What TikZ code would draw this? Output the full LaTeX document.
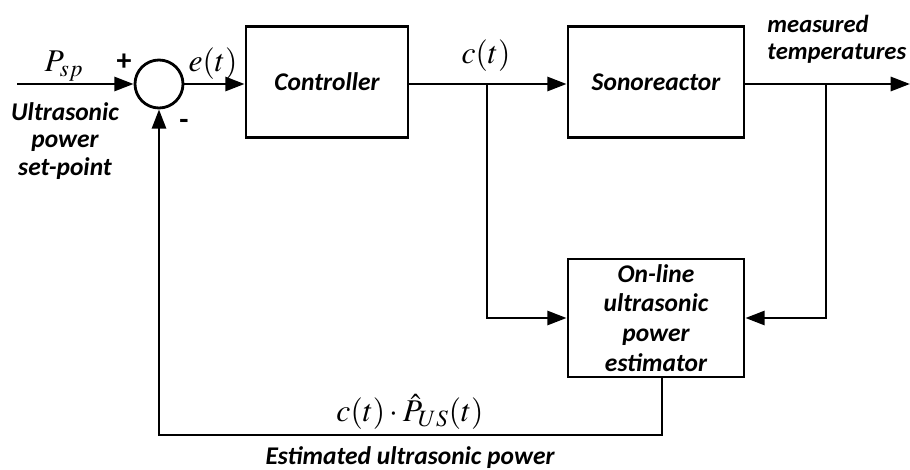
\documentclass[tikz,border=0pt]{standalone}
\usepackage{mathptmx}
\usepackage[no-math]{fontspec}
\setmainfont{Carlito}
\usepackage{tikz}
\usetikzlibrary{positioning, arrows.meta, calc}

\begin{document}
\begin{tikzpicture}[
  x=0.02cm, y=-0.02cm,
  every node/.style={font=\fontsize{14.5}{15.5}\selectfont\bfseries\itshape},
  block/.style={rectangle, draw=black, line width=1.6pt, minimum width=3.52cm, minimum height=2.22cm, align=center},
  sumnode/.style={circle, draw=black, line width=1.6pt, minimum size=0.96cm, inner sep=0pt},
  lbl/.style={font=\fontsize{18}{20}\selectfont},
  >={Triangle[length=11pt,width=8pt]}, line width=1.6pt
]
  \useasboundingbox (0,0) rectangle (910,470);
  % blocks
  \node[sumnode] (sum) at (159,84) {};
  \node[block, minimum width=3.24cm] (ctrl) at (327,82) {Controller};
  \node[block] (sono) at (656,82) {Sonoreactor};
  \node[block, minimum height=2.36cm, inner sep=1pt, font=\fontsize{14.5}{17}\selectfont\bfseries\itshape] (est) at (656,318)
    {On-line\\ultrasonic\\power\\estimator};
  \coordinate (in) at (17,84);
  \coordinate (out) at (910,84);
  \coordinate (cb) at (487,84);
  \coordinate (mb) at (826,84);
  \coordinate (lo) at (662,435);
  % connectors
  \draw[->] (in) -- (sum);
  \draw[->] (sum) -- (ctrl.west |- sum);
  \draw[->] (ctrl.east |- cb) -- (sono.west |- cb);
  \draw[->] (sono.east |- mb) -- (out);
  \draw[->] (cb) |- (est.west);
  \draw[->] (mb) |- (est.east);
  \draw[->] (est.south -| lo) -- (lo) -| (sum.south);
  % labels
  \node[lbl] (psp) at (64,66) {$P_{sp}$};
  \node[font=\fontsize{17}{18}\selectfont\bfseries] (plus) at (124,62) {+};
  \node[font=\fontsize{17}{18}\selectfont\bfseries] (minus) at (184,124) {-};
  \node[lbl] (et) at (213,64) {$e(t)$};
  \node[lbl] (ct) at (486,56) {$c(t)$};
  \node[align=left, anchor=west, inner xsep=0pt, font=\fontsize{14}{15.5}\selectfont\bfseries\itshape] (meas) at (766,39) {measured\\temperatures};
  \node[align=center] (usp) at (65,141) {Ultrasonic\\power\\set-point};
  \node[lbl] (prod) at (410,412) {$c(t)\cdot\hat{P}_{US}(t)$};
  \node (estp) at (410,458) {Estimated ultrasonic power};
\end{tikzpicture}
\end{document}
